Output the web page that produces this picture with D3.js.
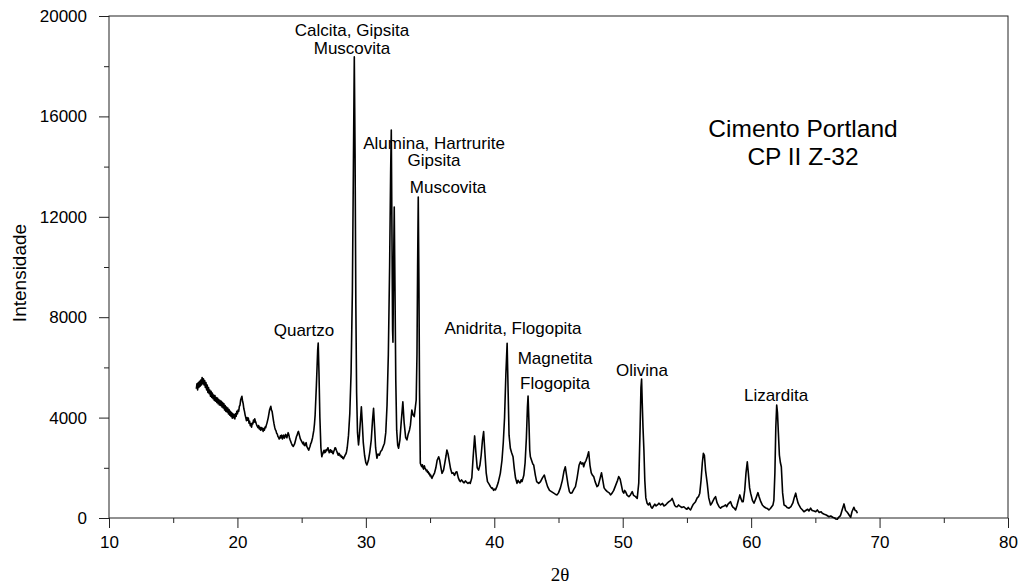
<!DOCTYPE html>
<html><head><meta charset="utf-8">
<script src="https://cdn.jsdelivr.net/npm/d3@7"></script>
<style>
body{margin:0;background:#fff;}
text{font-family:"Liberation Sans",Arial,sans-serif;fill:#000;}
</style></head>
<body>
<svg id="chart" width="1021" height="585"></svg>
<script>
// ---- data ----
const xTicks = [10,20,30,40,50,60,70,80];
const xMinorTicks = [15,25,35,45,55,65,75];
const yTicks = [0,4000,8000,12000,16000,20000];
const yMinorTicks = [2000,6000,10000,14000,18000];
const pattern = [
[16.8,5150],[16.85,5350],[16.9,5100],[16.95,5400],[17.0,5200],[17.05,5450],[17.1,5250],[17.15,5500],[17.2,5300],[17.25,5600],
[17.3,5350],[17.35,5550],[17.4,5300],[17.45,5480],[17.5,5200],[17.55,5400],[17.6,5100],[17.65,5300],[17.7,5000],[17.75,5200],
[17.8,4950],[17.85,5100],[17.9,4850],[17.95,5050],[18.0,4800],[18.05,4980],[18.1,4750],[18.15,4900],[18.2,4680],[18.25,4880],
[18.3,4650],[18.35,4800],[18.4,4600],[18.45,4780],[18.5,4550],[18.55,4720],[18.6,4500],[18.65,4680],[18.7,4480],[18.75,4650],
[18.8,4420],[18.85,4600],[18.9,4380],[18.95,4550],[19.0,4300],[19.05,4480],[19.1,4250],[19.15,4420],[19.2,4220],[19.25,4380],
[19.3,4150],[19.35,4320],[19.4,4100],[19.45,4250],[19.5,4050],[19.55,4200],[19.6,3980],[19.65,4150],[19.7,4000],[19.75,4120],
[19.8,3950],[19.85,4150],[19.9,4050],[19.95,4250],
[20.0,4150],[20.05,4300],[20.1,4250],[20.15,4450],[20.2,4500],[20.25,4700],[20.3,4780],[20.35,4850],[20.4,4650],[20.45,4550],
[20.5,4350],[20.55,4250],[20.6,4100],[20.65,4000],[20.7,3880],[20.75,4000],[20.8,3900],[20.85,3980],[20.9,3780],[20.95,3850],
[21.0,3680],[21.05,3750],[21.1,3620],[21.15,3780],[21.2,3750],[21.25,3900],[21.3,3820],[21.35,3950],[21.4,3850],[21.45,3780],
[21.5,3700],[21.55,3650],[21.6,3600],[21.65,3680],[21.7,3550],[21.75,3620],[21.8,3500],[21.85,3600],[21.9,3520],[21.95,3580],
[22.0,3450],[22.05,3560],[22.1,3500],[22.15,3620],[22.2,3600],[22.25,3700],[22.3,3780],[22.4,4000],[22.5,4300],[22.6,4450],
[22.65,4300],[22.7,4250],[22.8,3900],[22.85,3750],[22.9,3620],[22.95,3520],[23.0,3480],[23.05,3380],[23.1,3350],[23.15,3250],
[23.2,3220],[23.25,3150],[23.3,3180],[23.35,3280],[23.4,3200],[23.45,3300],[23.5,3150],[23.55,3250],[23.6,3300],[23.65,3180],
[23.7,3220],[23.75,3330],[23.8,3300],[23.85,3200],[23.9,3300],[23.95,3400],[24.0,3320],[24.05,3200],[24.1,3120],[24.15,3050],
[24.2,2980],[24.25,2920],[24.3,2880],[24.35,2850],[24.4,2900],[24.45,2950],[24.5,3050],[24.55,3150],[24.6,3250],[24.65,3300],
[24.7,3400],[24.75,3450],[24.8,3350],[24.85,3250],[24.9,3150],[24.95,3100],[25.0,3050],[25.05,3000],[25.1,2950],[25.15,3020],
[25.2,2900],[25.25,2880],[25.3,2950],[25.35,3000],[25.4,2850],[25.45,2800],[25.5,2750],[25.55,2700],[25.6,2780],[25.65,2850],
[25.7,2950],[25.75,3000],[25.8,3100],[25.85,3200],[25.9,3350],[25.95,3500],[26.0,3750],[26.05,4100],[26.15,5300],[26.25,6700],
[26.29,6970],[26.35,5800],[26.42,4000],[26.5,2800],
[26.57,2440],[26.6,2500],[26.65,2560],[26.7,2650],[26.75,2700],[26.8,2600],[26.85,2620],[26.9,2720],[26.95,2680],[27.0,2750],
[27.05,2800],[27.1,2700],[27.15,2600],[27.2,2680],[27.25,2720],[27.3,2620],[27.35,2680],[27.4,2600],[27.45,2560],[27.5,2650],
[27.55,2720],[27.6,2800],[27.65,2780],[27.7,2700],[27.75,2640],[27.8,2560],[27.85,2500],[27.9,2580],[27.95,2540],[28.0,2470],
[28.05,2500],[28.1,2420],[28.15,2450],[28.2,2380],[28.26,2360],[28.3,2420],[28.35,2460],[28.4,2520],[28.45,2560],[28.5,2650],
[28.55,2800],[28.65,3300],[28.75,4170],[28.85,5800],[28.95,9000],[29.03,14000],[29.1,18370],[29.16,14500],[29.22,8500],[29.28,5000],
[29.35,3400],[29.43,2910],[29.5,3300],[29.58,3900],[29.65,4430],[29.72,3800],[29.8,3000],[29.9,2500],[30.0,2200],[30.08,2110],
[30.2,2300],[30.3,2600],[30.42,3100],[30.52,3900],[30.6,4370],[30.68,3600],[30.76,2800],[30.86,2380],[30.95,2550],[31.05,2500],
[31.15,2650],[31.25,2710],[31.35,2850],[31.45,2980],[31.55,3400],[31.65,4500],[31.75,6500],[31.85,10000],[31.93,13800],[31.98,15460],
[32.03,11500],[32.08,7500],[32.11,7000],[32.15,9500],[32.21,12390],[32.27,9000],[32.33,5500],[32.4,3500],[32.48,2900],[32.55,2780],
[32.65,3100],[32.75,3800],[32.88,4630],[32.98,3800],[33.1,3200],[33.2,3110],[33.3,3350],[33.4,3510],[33.47,3700],[33.58,4300],
[33.68,4100],[33.77,4040],[33.85,4400],[33.92,4700],[33.98,6500],[34.03,10000],[34.08,12790],[34.13,9500],[34.18,5000],[34.24,2180],
[34.3,2100],[34.35,2050],[34.4,2120],[34.45,2000],[34.5,1950],[34.55,2080],[34.6,2000],[34.65,1950],[34.7,1880],[34.76,1910],
[34.8,1820],[34.85,1850],[34.9,1760],[34.95,1780],[35.0,1680],[35.05,1710],[35.1,1620],[35.15,1580],[35.2,1650],[35.25,1700],
[35.35,1800],[35.45,2000],[35.55,2300],[35.67,2440],[35.75,2300],[35.85,2000],[35.93,1780],[36.05,1910],[36.15,2200],[36.25,2500],
[36.31,2710],[36.4,2550],[36.5,2250],[36.6,1950],[36.7,1780],[36.8,1800],[36.9,1700],[37.0,1820],[37.09,1840],[37.2,1600],
[37.3,1480],[37.35,1450],[37.45,1520],[37.5,1480],[37.6,1420],[37.65,1400],[37.75,1480],[37.8,1450],[37.9,1400],[37.95,1380],
[38.05,1420],[38.13,1380],[38.25,1600],[38.35,2400],[38.47,3270],[38.57,2600],[38.67,2000],[38.78,1910],[38.88,2100],[38.98,2500],
[39.08,3100],[39.17,3440],[39.27,2600],[39.37,1800],[39.47,1450],[39.56,1380],[39.65,1300],[39.7,1250],[39.8,1180],[39.85,1200],
[39.95,1100],[40.0,1150],[40.09,1120],[40.2,1250],[40.3,1400],[40.47,1780],[40.6,2300],[40.7,3000],[40.8,4000],[40.9,5700],
[41.0,6960],[41.08,5000],[41.15,3300],[41.25,2780],[41.35,2600],[41.46,2440],[41.55,2000],[41.65,1600],[41.77,1380],[41.85,1500],
[41.9,1450],[42.0,1400],[42.1,1520],[42.16,1450],[42.3,1700],[42.4,2200],[42.5,3200],[42.58,4400],[42.63,4860],[42.7,3800],
[42.76,2700],[42.81,2440],[42.9,2300],[43.0,2150],[43.07,2110],[43.2,1700],[43.3,1450],[43.46,1380],[43.6,1450],[43.75,1600],
[43.9,1710],[44.0,1500],[44.15,1250],[44.3,1100],[44.45,1050],[44.6,1000],[44.75,950],[44.89,920],[45.0,1000],[45.15,1200],
[45.3,1500],[45.42,1850],[45.53,2040],[45.63,1700],[45.75,1300],[45.85,1050],[45.93,990],[46.05,1000],[46.2,1150],[46.32,1250],
[46.45,1600],[46.6,2100],[46.71,2240],[46.8,2150],[46.9,2200],[46.96,2040],[47.05,2200],[47.15,2300],[47.25,2450],[47.35,2640],
[47.45,2100],[47.55,1800],[47.65,1700],[47.74,1650],[47.85,1450],[48.0,1250],[48.1,1300],[48.2,1500],[48.35,1800],[48.45,1500],
[48.55,1200],[48.66,1120],[48.8,1050],[48.95,1000],[49.05,920],[49.17,990],[49.3,1100],[49.45,1300],[49.6,1500],[49.69,1650],
[49.8,1550],[49.9,1300],[50.0,1050],[50.08,990],[50.15,1100],[50.22,1050],[50.35,900],[50.48,850],[50.6,920],[50.74,1050],
[50.85,900],[51.0,850],[51.13,780],[51.25,1400],[51.35,3500],[51.42,5200],[51.47,5540],[51.52,4600],[51.58,3600],[51.65,2710],
[51.72,1500],[51.8,800],[51.9,590],[52.0,520],[52.1,600],[52.2,450],[52.29,390],[52.4,480],[52.5,550],[52.6,480],
[52.7,520],[52.82,590],[52.95,520],[53.1,580],[53.2,480],[53.34,520],[53.45,580],[53.6,650],[53.75,700],[53.85,780],
[53.95,650],[54.05,500],[54.15,450],[54.24,450],[54.35,520],[54.45,470],[54.6,420],[54.76,450],[54.9,380],[55.0,350],
[55.1,420],[55.2,360],[55.28,320],[55.4,450],[55.5,550],[55.67,650],[55.8,800],[55.9,850],[56.0,990],[56.1,1500],
[56.2,2200],[56.28,2580],[56.36,2500],[56.45,1900],[56.58,1380],[56.7,800],[56.84,520],[56.95,600],[57.05,700],[57.15,800],
[57.23,850],[57.35,600],[57.5,450],[57.62,390],[57.75,450],[57.9,480],[58.01,520],[58.1,450],[58.2,550],[58.3,600],
[58.4,650],[58.5,500],[58.6,420],[58.7,380],[58.79,320],[58.9,500],[59.0,700],[59.12,920],[59.22,750],[59.3,650],
[59.38,650],[59.5,1100],[59.6,1800],[59.7,2240],[59.78,1800],[59.88,1200],[59.96,990],[60.1,700],[60.22,590],[60.35,750],
[60.45,900],[60.53,1010],[60.62,850],[60.75,650],[60.87,520],[61.0,450],[61.15,400],[61.25,380],[61.38,320],[61.5,380],
[61.6,450],[61.7,520],[61.77,700],[61.85,1800],[61.92,3600],[61.99,4500],[62.05,4200],[62.12,3400],[62.2,2500],[62.28,2200],
[62.35,2040],[62.45,1000],[62.56,520],[62.7,480],[62.8,420],[62.95,390],[63.1,450],[63.25,600],[63.35,800],[63.47,990],
[63.55,800],[63.65,600],[63.72,520],[63.85,400],[64.0,320],[64.11,250],[64.25,300],[64.4,350],[64.5,280],[64.63,390],
[64.75,300],[64.9,280],[65.03,250],[65.15,320],[65.3,220],[65.45,250],[65.54,190],[65.7,150],[65.85,120],[66.06,50],
[66.2,80],[66.35,30],[66.5,0],[66.6,-40],[66.71,-50],[66.8,20],[66.9,60],[66.97,120],[67.1,350],[67.23,560],
[67.35,300],[67.45,250],[67.54,190],[67.65,100],[67.75,30],[67.85,250],[68.0,430],[68.1,300],[68.2,280],[68.27,190]
];
const peakLabels = [
  {lines:["Calcita, Gipsita","Muscovita"], x:28.92, y:[19200,18470]},
  {lines:["Alumina, Hartrurite","Gipsita"], x:35.31, y:[14700,14010]},
  {lines:["Muscovita"], x:36.4, y:[12950]},
  {lines:["Quartzo"], x:25.18, y:[7270]},
  {lines:["Anidrita, Flogopita"], x:41.46, y:[7350]},
  {lines:["Magnetita","Flogopita"], x:44.73, y:[6120,5140]},
  {lines:["Olivina"], x:51.5, y:[5660]},
  {lines:["Lizardita"], x:61.94, y:[4670]}
];
const titleLines = ["Cimento Portland","CP II Z-32"];

// ---- layout ----
const svg = d3.select("#chart");
const L=109, R=1008, T=16, B=518;
const x = d3.scaleLinear().domain([10,80]).range([L,R]);
const y = d3.scaleLinear().domain([0,20000]).range([B,T]);

// frame
svg.append("rect").attr("x",L).attr("y",T).attr("width",R-L).attr("height",B-T)
  .attr("fill","none").attr("stroke","#222").attr("stroke-width",1);

// axes
const xAxis = d3.axisBottom(x).tickValues(xTicks).tickSize(10).tickPadding(8).tickFormat(d3.format("d"));
svg.append("g").attr("transform",`translate(0,${B})`).call(xAxis);
svg.append("g").attr("transform",`translate(0,${B})`).call(d3.axisBottom(x).tickValues(xMinorTicks).tickSize(5).tickFormat(""));
const yAxis = d3.axisLeft(y).tickValues(yTicks).tickSize(10).tickPadding(12).tickFormat(d3.format("d"));
svg.append("g").attr("transform",`translate(${L},0)`).call(yAxis);
svg.append("g").attr("transform",`translate(${L},0)`).call(d3.axisLeft(y).tickValues(yMinorTicks).tickSize(5).tickFormat(""));
svg.selectAll(".domain").remove();
svg.selectAll(".tick line").attr("stroke","#222");
svg.selectAll(".tick text").style("font-family","'Liberation Sans',Arial,sans-serif").style("font-size","17px").attr("fill","#000");

// axis titles
svg.append("text").attr("x",560).attr("y",581).attr("text-anchor","middle")
  .style("font-family","'Liberation Serif','Times New Roman',serif").style("font-size","19px").text("2θ");
svg.append("text").attr("transform","translate(26,273) rotate(-90)").attr("text-anchor","middle")
  .style("font-size","19px").text("Intensidade");

// curve
const line = d3.line().x(d=>x(d[0])).y(d=>y(d[1]));
svg.append("path").datum(pattern).attr("d",line).attr("fill","none")
  .attr("stroke","#000").attr("stroke-width",1.6).attr("stroke-linejoin","round");

// peak labels
peakLabels.forEach(p=>{
  p.lines.forEach((t,i)=>{
    svg.append("text").attr("x",x(p.x)).attr("y",y(p.y[i])).attr("text-anchor","middle")
      .style("font-size","17px").text(t);
  });
});
// sample title
titleLines.forEach((t,i)=>{
  svg.append("text").attr("x",803).attr("y",137+i*28).attr("text-anchor","middle")
    .style("font-size","24.5px").text(t);
});
</script>
</body></html>
